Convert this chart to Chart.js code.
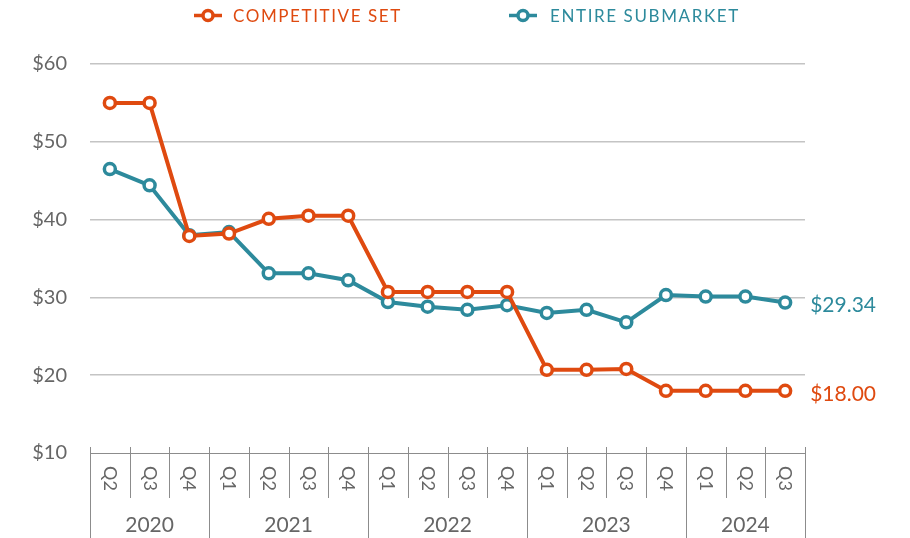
<!DOCTYPE html>
<html>
<head>
<meta charset="utf-8">
<script src="https://cdn.jsdelivr.net/npm/chart.js@4.4.1/dist/chart.umd.min.js"></script>
<style>
  html, body { margin: 0; padding: 0; background: #fff; }
  #wrap { width: 910px; height: 538px; }
</style>
</head>
<body>
<div id="wrap"><canvas id="rentChart"></canvas></div>
<script>
// quarters, with the year each belongs to
var quarters = ['Q2','Q3','Q4','Q1','Q2','Q3','Q4','Q1','Q2','Q3','Q4','Q1','Q2','Q3','Q4','Q1','Q2','Q3'];
var years    = ['2020','2020','2020','2021','2021','2021','2021','2022','2022','2022','2022','2023','2023','2023','2023','2024','2024','2024'];

var competitiveSet   = [55, 55, 37.9, 38.2, 40.1, 40.5, 40.5, 30.7, 30.7, 30.7, 30.7, 20.7, 20.7, 20.8, 18, 18, 18, 18];
var entireSubmarket  = [46.5, 44.4, 38, 38.4, 33.1, 33.1, 32.2, 29.4, 28.8, 28.4, 29.0, 28.0, 28.4, 26.8, 30.3, 30.1, 30.1, 29.34];

var yTicks = [10, 20, 30, 40, 50, 60];

var ORANGE = '#DF4A10';
var TEAL = '#2D8A9C';
var GREY_TEXT = '#666666';
var AXIS_GREY = '#8c8c8c';
var FONT = 'Lato, "Open Sans", sans-serif';

// draws legend, rotated quarter labels, year groups and end labels
var decorPlugin = {
  id: 'decor',
  afterDraw: function(chart) {
    var ctx = chart.ctx;
    var x = chart.scales.x;
    var area = chart.chartArea;
    var n = quarters.length;
    var step = (area.right - area.left) / n;

    ctx.save();

    // axis line
    ctx.strokeStyle = AXIS_GREY;
    ctx.lineWidth = 1;
    ctx.beginPath();
    ctx.moveTo(area.left, area.bottom + 0.5);
    ctx.lineTo(area.right, area.bottom + 0.5);
    ctx.stroke();

    // separators
    for (var i = 0; i <= n; i++) {
      var bx = Math.round(area.left + i * step) + 0.5;
      var isYear = (i === 0 || i === n || years[i] !== years[i - 1]);
      ctx.beginPath();
      ctx.moveTo(bx, area.bottom - 6);
      ctx.lineTo(bx, isYear ? chart.height : area.bottom + 45);
      ctx.stroke();
    }

    // quarter labels, rotated clockwise
    ctx.fillStyle = GREY_TEXT;
    ctx.font = '18px ' + FONT;
    ctx.textAlign = 'left';
    ctx.textBaseline = 'middle';
    for (var j = 0; j < n; j++) {
      var px = x.getPixelForValue(j);
      ctx.save();
      ctx.translate(px, area.bottom + 13);
      ctx.rotate(Math.PI / 2);
      ctx.fillText(quarters[j], 0, 0);
      ctx.restore();
    }

    // year labels centred under their quarters
    ctx.font = '21px ' + FONT;
    ctx.textAlign = 'center';
    var start = 0;
    for (var k = 1; k <= n; k++) {
      if (k === n || years[k] !== years[start]) {
        var cx = (x.getPixelForValue(start) + x.getPixelForValue(k - 1)) / 2;
        ctx.fillText(years[start], cx, area.bottom + 72);
        start = k;
      }
    }

    // end value labels
    ctx.font = '21px ' + FONT;
    ctx.textAlign = 'left';
    chart.data.datasets.forEach(function(ds, d) {
      var meta = chart.getDatasetMeta(d);
      var last = meta.data[meta.data.length - 1];
      var v = ds.data[ds.data.length - 1];
      ctx.fillStyle = ds.borderColor;
      ctx.fillText('$' + v.toFixed(2), last.x + 25, last.y + 3);
    });

    // legend
    var items = [
      { label: 'COMPETITIVE SET', color: ORANGE, x: 194, tx: 233 },
      { label: 'ENTIRE SUBMARKET', color: TEAL, x: 509, tx: 550 }
    ];
    ctx.font = '17px ' + FONT;
    ctx.letterSpacing = '1.6px';
    items.forEach(function(it) {
      var ly = 15.5;
      ctx.strokeStyle = it.color;
      ctx.lineWidth = 3.5;
      ctx.beginPath();
      ctx.moveTo(it.x, ly);
      ctx.lineTo(it.x + 28, ly);
      ctx.stroke();
      ctx.fillStyle = '#fff';
      ctx.beginPath();
      ctx.arc(it.x + 14, ly, 5, 0, Math.PI * 2);
      ctx.fill();
      ctx.stroke();
      ctx.fillStyle = it.color;
      ctx.textAlign = 'left';
      ctx.textBaseline = 'middle';
      ctx.fillText(it.label, it.tx, ly + 1);
    });

    ctx.restore();
  }
};

var ctx = document.getElementById('rentChart').getContext('2d');

var rentChart = new Chart(ctx, {
  type: 'line',
  data: {
    labels: quarters.map(function(q, i) { return q + ' ' + years[i]; }),
    datasets: [
      {
        label: 'COMPETITIVE SET',
        data: competitiveSet,
        borderColor: ORANGE,
        backgroundColor: '#fff',
        borderWidth: 4,
        pointRadius: 5.5,
        pointBorderWidth: 3.5,
        pointBackgroundColor: '#fff',
        pointBorderColor: ORANGE,
        tension: 0
      },
      {
        label: 'ENTIRE SUBMARKET',
        data: entireSubmarket,
        borderColor: TEAL,
        backgroundColor: '#fff',
        borderWidth: 4,
        pointRadius: 5.5,
        pointBorderWidth: 3.5,
        pointBackgroundColor: '#fff',
        pointBorderColor: TEAL,
        tension: 0
      }
    ]
  },
  options: {
    responsive: true,
    maintainAspectRatio: false,
    animation: false,
    layout: { padding: { top: 64, right: 105, left: 0, bottom: 0 } },
    plugins: {
      legend: { display: false },
      tooltip: { enabled: false }
    },
    scales: {
      x: {
        type: 'category',
        offset: true,
        grid: { display: false },
        border: { display: false },
        ticks: { display: false },
        afterFit: function(scale) { scale.height = 85; }
      },
      y: {
        min: 10,
        max: 60,
        afterBuildTicks: function(scale) {
          scale.ticks = yTicks.map(function(v) { return { value: v }; });
        },
        grid: {
          color: function(c) { return c.tick.value === 10 ? 'rgba(0,0,0,0)' : '#c4c4c4'; },
          lineWidth: 1.5,
          drawTicks: false
        },
        border: { display: false },
        ticks: {
          color: GREY_TEXT,
          font: { family: FONT, size: 20 },
          padding: 23,
          callback: function(v) { return '$' + v; }
        },
        afterFit: function(scale) { scale.width = 90; }
      }
    }
  },
  plugins: [decorPlugin]
});
</script>
</body>
</html>
